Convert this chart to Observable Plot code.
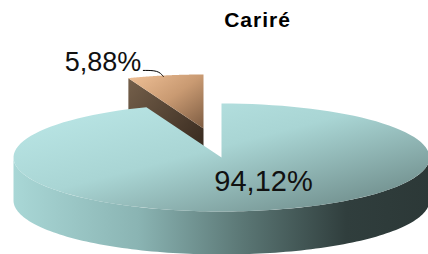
<!DOCTYPE html>
<html>
<head>
<meta charset="utf-8">
<script src="https://cdn.jsdelivr.net/npm/d3@7"></script>
<script src="https://cdn.jsdelivr.net/npm/@observablehq/plot@0.6"></script>
<style>
  html, body { margin: 0; padding: 0; background: #fff; }
  svg { display: block; }
</style>
</head>
<body>
<div id="chart"></div>
<script>
// ---- data ----
const title = "Cariré";
const categories = ["Não", "Sim"];
const values = [94.12, 5.88];
const valueLabels = ["94,12%", "5,88%"];

// ---- layout (pixel-like data space) ----
const W = 428, H = 254;
const cx = 221, cy = 157, rx = 208, ry = 54, depth = 43;
const explode = [0, 1];          // which slice is pulled out
const offX = -18, offY = -29;    // pull-out offset

const arcs = d3.pie().sort(null).startAngle(0).endAngle(2 * Math.PI)(values);
const pt = (a, ox, oy, dz = 0) => ({x: ox + rx * Math.sin(a), y: oy - ry * Math.cos(a) + dz});
const arcPts = (a0, a1, ox, oy, dz = 0, n = 120) =>
  d3.range(n + 1).map(i => pt(a0 + (a1 - a0) * i / n, ox, oy, dz));

const big = arcs[0], small = arcs[1];
// big slice
const bigTop = [{x: cx, y: cy}, ...arcPts(big.startAngle, big.endAngle, cx, cy), {x: cx, y: cy}];
const frontA0 = Math.PI / 2, frontA1 = 3 * Math.PI / 2;
const bigSide = [...arcPts(frontA0, frontA1, cx, cy), ...arcPts(frontA1, frontA0, cx, cy, depth)];
// small slice (exploded)
const sx = cx + offX, sy = cy + offY;
const smallTop = [{x: sx, y: sy}, ...arcPts(small.startAngle, small.endAngle, sx, sy), {x: sx, y: sy}];
const pOuter = pt(small.startAngle, sx, sy);
const smallFace = [{x: sx, y: sy}, pOuter, {x: pOuter.x, y: pOuter.y + depth}, {x: sx, y: sy + depth}];

// label leader for small slice
const mid = (small.startAngle + small.endAngle) / 2;
const pm = pt(mid, sx, sy);
const leader = [{x: pm.x - 2, y: pm.y + 1}, {x: pm.x - 7, y: pm.y - 5}, {x: pm.x - 22, y: pm.y - 5}];

const font = "'Liberation Sans', Arial, sans-serif";

const chart = Plot.plot({
  width: W, height: H,
  margin: 0,
  x: {domain: [0, W], axis: null},
  y: {domain: [H, 0], axis: null},
  style: {fontFamily: font, background: "#fff"},
  marks: [
    Plot.line(smallFace, {x: "x", y: "y", fill: "url(#gSmallFace)", stroke: "none"}),
    Plot.line(smallTop, {x: "x", y: "y", fill: "url(#gSmallTop)", stroke: "none"}),
    Plot.line(bigSide, {x: "x", y: "y", fill: "url(#gBigSide)", stroke: "none"}),
    Plot.line(bigTop, {x: "x", y: "y", fill: "url(#gBigTop)", stroke: "none"}),
    Plot.line(leader, {x: "x", y: "y", stroke: "#000", strokeWidth: 1, curve: "basis"}),
    Plot.text([valueLabels[1]], {x: leader[2].x - 2, y: pm.y - 13, text: d => d, textAnchor: "end", fontSize: 27, fill: "#111"}),
    Plot.text([valueLabels[0]], {x: 263, y: 181, text: d => d, fontSize: 29, fill: "#111"}),
    Plot.text([title], {x: 257, y: 20, text: d => d, fontSize: 21, fontWeight: "bold", fill: "#000"})
  ]
});

const defs = `
<defs>
  <linearGradient id="gBigTop" x1="0" y1="0" x2="1" y2="1">
    <stop offset="0" stop-color="#bde9e9"/>
    <stop offset="0.45" stop-color="#a9d5d4"/>
    <stop offset="1" stop-color="#647f7d"/>
  </linearGradient>
  <linearGradient id="gBigSide" x1="0" y1="0" x2="1" y2="0">
    <stop offset="0" stop-color="#a9d7d6"/>
    <stop offset="0.3" stop-color="#8ab4b3"/>
    <stop offset="0.55" stop-color="#5b7775"/>
    <stop offset="0.8" stop-color="#303e3d"/>
    <stop offset="1" stop-color="#2c3837"/>
  </linearGradient>
  <linearGradient id="gSmallTop" x1="0" y1="0" x2="1" y2="1">
    <stop offset="0" stop-color="#f0c197"/>
    <stop offset="0.5" stop-color="#c99a72"/>
    <stop offset="1" stop-color="#7d5c42"/>
  </linearGradient>
  <linearGradient id="gSmallFace" x1="0" y1="0" x2="1" y2="1">
    <stop offset="0" stop-color="#75604b"/>
    <stop offset="1" stop-color="#2f2218"/>
  </linearGradient>
</defs>`;
chart.insertAdjacentHTML("afterbegin", defs);
d3.select(chart).selectAll("text").filter(function() { return this.textContent === title; })
  .style("letter-spacing", "1px");
document.getElementById("chart").appendChild(chart);
</script>
</body>
</html>
